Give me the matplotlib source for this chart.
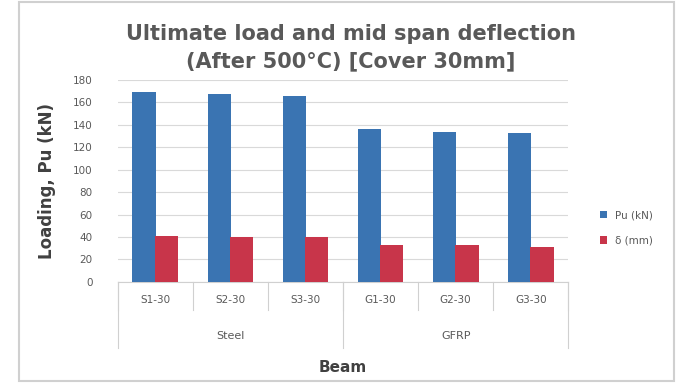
import matplotlib
matplotlib.use("Agg")
import matplotlib.pyplot as plt
import numpy as np

# Test results per beam
beams = ["S1-30", "S2-30", "S3-30", "G1-30", "G2-30", "G3-30"]
groups = ["Steel", "GFRP"]
group_sizes = [3, 3]
ultimate_load = [169, 168, 166, 136, 134, 133]   # Pu (kN)
deflection = [41, 40, 40, 33, 33, 31]            # mid-span deflection (mm)
yticks = [0, 20, 40, 60, 80, 100, 120, 140, 160, 180]

blue = "#3a74b2"
red = "#c8354a"
txt = "#595959"

fig = plt.figure(figsize=(6.93, 3.83), dpi=100)
fig.patch.set_facecolor("white")

# outer chart frame
frame = plt.Rectangle((0.028, 0.005), 0.945, 0.99, transform=fig.transFigure,
                      fill=False, edgecolor="#d0d0d0", linewidth=1.5)
fig.add_artist(frame)

ax = fig.add_axes([0.170, 0.264, 0.650, 0.527])
x = np.arange(len(beams))
w = 0.31
ax.bar(x - 0.15, ultimate_load, width=w, color=blue, label="Pu (kN)", zorder=3)
ax.bar(x + 0.15, deflection, width=w, color=red, label="\u03b4 (mm)", zorder=3)

ax.set_xlim(-0.5, len(beams) - 0.5)
ax.set_ylim(0, 180)
ax.set_yticks(yticks)
ax.set_yticklabels([str(v) for v in yticks], fontsize=7.5, color=txt)
ax.yaxis.grid(True, color="#d9d9d9", linewidth=0.8, zorder=0)
ax.tick_params(axis="y", length=0, pad=18)
ax.tick_params(axis="x", length=0)
ax.set_xticks([])
for s in ["top", "right", "left"]:
    ax.spines[s].set_visible(False)
ax.spines["bottom"].set_color("#d0d0d0")

# multi-level category axis
trans = ax.get_xaxis_transform()
for i, b in enumerate(beams):
    ax.text(i, -0.09, b, transform=trans, ha="center", va="center",
            fontsize=7.5, color=txt)
for i in range(len(beams) + 1):
    ax.plot([i - 0.5, i - 0.5], [0, -0.14], transform=trans, color="#d0d0d0",
            linewidth=0.8, clip_on=False)
start = 0
for g, n in zip(groups, group_sizes):
    ax.text(start + n / 2 - 0.5, -0.27, g, transform=trans, ha="center",
            va="center", fontsize=8, color=txt)
    ax.plot([start - 0.5, start - 0.5], [0, -0.33], transform=trans,
            color="#d0d0d0", linewidth=0.8, clip_on=False)
    start += n
ax.plot([start - 0.5, start - 0.5], [0, -0.33], transform=trans,
        color="#d0d0d0", linewidth=0.8, clip_on=False)

ax.set_ylabel("Loading, Pu (kN)", fontsize=12, fontweight="bold", color="#404040",
              labelpad=12)
fig.text(0.495, 0.04, "Beam", ha="center", va="center", fontsize=11,
         fontweight="bold", color="#404040")

fig.text(0.506, 0.875, "Ultimate load and mid span deflection\n(After 500\u00b0C) [Cover 30mm]",
         ha="center", va="center", fontsize=15, fontweight="bold", color=txt,
         linespacing=1.45)

fig.legend(loc="center left", bbox_to_anchor=(0.852, 0.405), frameon=False,
           fontsize=7.5, handlelength=0.7, handleheight=0.7, labelspacing=1.5,
           labelcolor=txt)

fig.savefig("out.png", dpi=100, facecolor="white")
